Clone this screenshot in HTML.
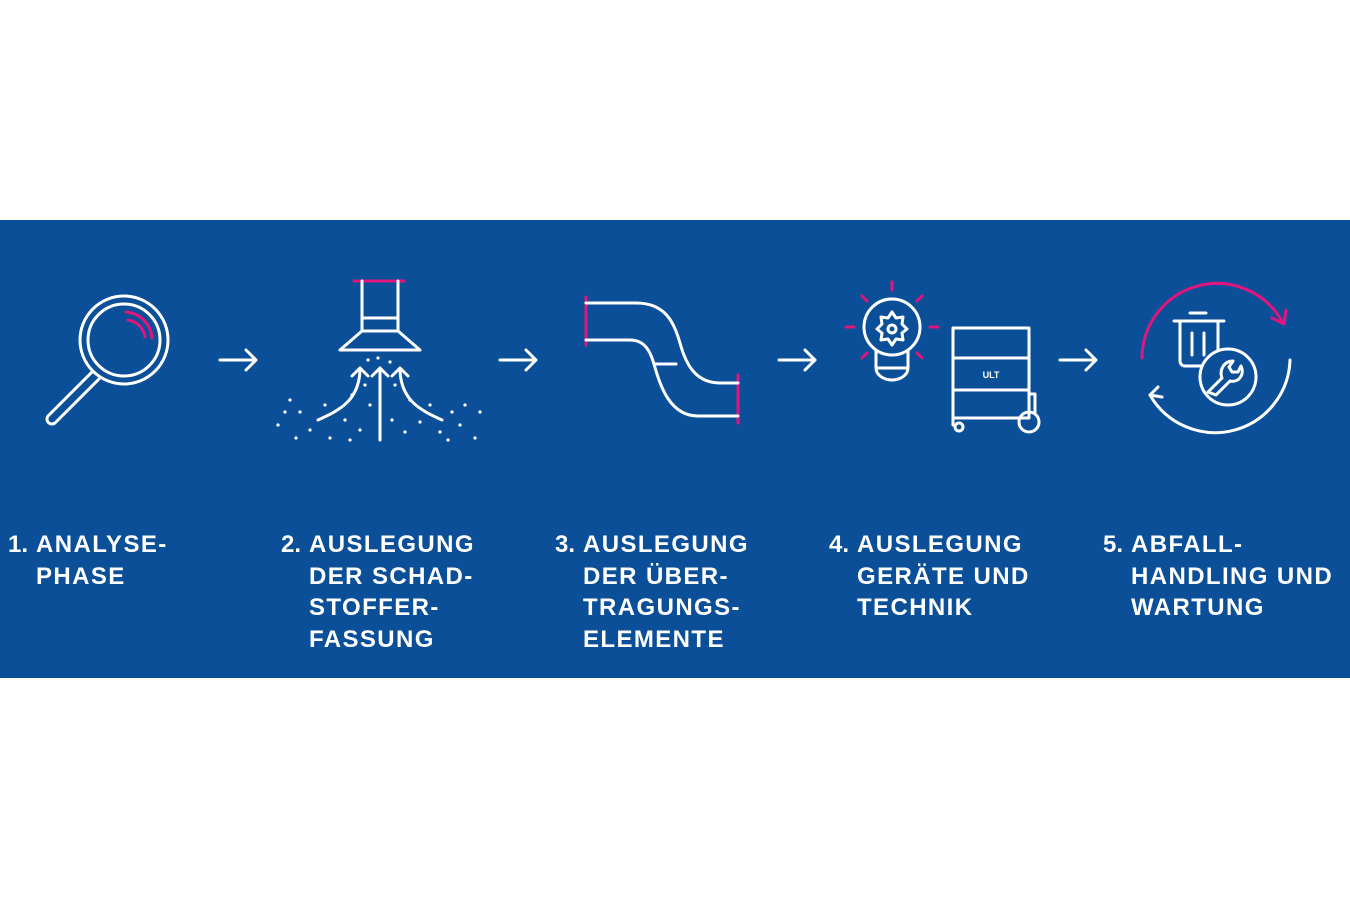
<!DOCTYPE html>
<html><head><meta charset="utf-8"><style>
html,body{margin:0;padding:0;background:#fff;width:1350px;height:900px;overflow:hidden;font-family:"Liberation Sans",sans-serif}
.band{position:absolute;left:0;top:220px;width:1350px;height:458px;background:#0a4f97}
.t{position:absolute;color:#fff;font-weight:bold;font-size:24px;letter-spacing:1.4px;line-height:31.5px;top:529px}
.t span{display:inline-block;width:28px;letter-spacing:0}
.t div{padding-left:28px}
svg{position:absolute;left:0;top:0}
</style></head><body>
<div class="band"></div>
<svg width="1350" height="900" fill="none" stroke="#fff" stroke-width="3" stroke-linecap="round" stroke-linejoin="round">
<circle cx="124" cy="340" r="44"/><circle cx="124" cy="340" r="36"/>
<path d="M92 372 L48 416 a5 5 0 0 0 7 7 L99 379"/>
<path d="M126 312 a28 28 0 0 1 26 26" stroke="#e0157d"/>
<path d="M128 320 a20 20 0 0 1 17 17" stroke="#e0157d"/>
<g><path d="M220 360h36M246 350l10 10-10 10"/><path d="M500 360h36M526 350l10 10-10 10"/><path d="M779 360h36M805 350l10 10-10 10"/><path d="M1060 360h36M1086 350l10 10-10 10"/></g>
<path d="M354 281h50" stroke="#e0157d"/>
<path d="M362 281v50h36v-50M362 318h36"/>
<path d="M362 331 L340 350 h80 L398 331"/>
<path d="M380 440 V368M372 376l8-8 8 8"/>
<path d="M318 420 C340 410 360 400 360 368M352 376l8-8 8 8"/>
<path d="M442 420 C420 410 400 400 400 368M392 376l8-8 8 8"/>
<g fill="#fff" stroke="none">
<circle cx="290" cy="400" r="1.6"/><circle cx="300" cy="412" r="1.6"/><circle cx="278" cy="425" r="1.6"/><circle cx="310" cy="430" r="1.6"/><circle cx="325" cy="405" r="1.6"/><circle cx="330" cy="438" r="1.6"/><circle cx="296" cy="438" r="1.6"/><circle cx="345" cy="420" r="1.6"/><circle cx="352" cy="395" r="1.6"/><circle cx="360" cy="430" r="1.6"/><circle cx="370" cy="405" r="1.6"/><circle cx="368" cy="360" r="1.6"/><circle cx="390" cy="362" r="1.6"/><circle cx="378" cy="358" r="1.6"/><circle cx="392" cy="420" r="1.6"/><circle cx="405" cy="432" r="1.6"/><circle cx="410" cy="400" r="1.6"/><circle cx="420" cy="422" r="1.6"/><circle cx="430" cy="405" r="1.6"/><circle cx="440" cy="432" r="1.6"/><circle cx="452" cy="412" r="1.6"/><circle cx="460" cy="425" r="1.6"/><circle cx="465" cy="405" r="1.6"/><circle cx="475" cy="438" r="1.6"/><circle cx="480" cy="412" r="1.6"/><circle cx="285" cy="412" r="1.6"/><circle cx="350" cy="440" r="1.6"/><circle cx="365" cy="385" r="1.6"/><circle cx="395" cy="385" r="1.6"/><circle cx="448" cy="440" r="1.6"/>
</g>
<path d="M586 297v48M738 375v48" stroke="#e0157d"/>
<path d="M586 303h50c30 0 38 20 44 40 6 22 16 40 40 40h18"/>
<path d="M586 340h44c14 0 20 10 24 24 6 22 16 52 44 52h40"/>
<path d="M654 364h22"/>
<circle cx="892" cy="327" r="28"/>
<path d="M876 350v18h32v-18M876 368a16 12 0 0 0 32 0"/>
<path d="M892 312l4 6 7-1 -1 7 5 5-5 4 1 7-7-1-4 6-4-6-7 1 1-7-5-4 5-5-1-7 7 1z"/><circle cx="892" cy="329" r="4"/>
<g stroke="#e0157d"><path d="M892 282v8M862 296l5 5M922 296l-5 5M846 327h8M930 327h8M862 358l5-5M922 358l-5-5"/></g>
<rect x="953" y="328" width="76" height="90"/><path d="M953 358h76M953 390h76M1029 394h6v18M953 418v7"/>
<circle cx="959" cy="427" r="4"/><circle cx="1029" cy="422" r="10"/>
<text x="991" y="378" fill="#fff" stroke="none" font-size="9" font-weight="bold" text-anchor="middle" font-family="Liberation Sans">ULT</text>
<path d="M1142 358a75 75 0 0 1 140 -37" stroke="#e0157d"/><path d="M1272 318l12 6 2-14" stroke="#e0157d"/>
<path d="M1290 360a75 75 0 0 1 -140 35"/><path d="M1150 395l8-8M1150 395l12 2"/>
<path d="M1174 321h50M1190 313h16M1180 321v40a5 5 0 0 0 5 5h28a5 5 0 0 0 5-5v-40M1192 333v22M1204 333v22"/>
<circle cx="1228" cy="377" r="28" fill="#0a4f97"/>
<path d="M1208 392l14-14c-3-8 2-17 11-17l-4 6 3 5 6 0 3-6c4 8-2 17-11 15l-14 14z"/>
</svg>
<div class="t" style="left:8px"><span>1.</span>ANALYSE-<div>PHASE</div></div>
<div class="t" style="left:281px"><span>2.</span>AUSLEGUNG<div>DER SCHAD-<br>STOFFER-<br>FASSUNG</div></div>
<div class="t" style="left:555px"><span>3.</span>AUSLEGUNG<div>DER ÜBER-<br>TRAGUNGS-<br>ELEMENTE</div></div>
<div class="t" style="left:829px"><span>4.</span>AUSLEGUNG<div>GERÄTE UND<br>TECHNIK</div></div>
<div class="t" style="left:1103px"><span>5.</span>ABFALL-<div>HANDLING UND<br>WARTUNG</div></div>
</body></html>
